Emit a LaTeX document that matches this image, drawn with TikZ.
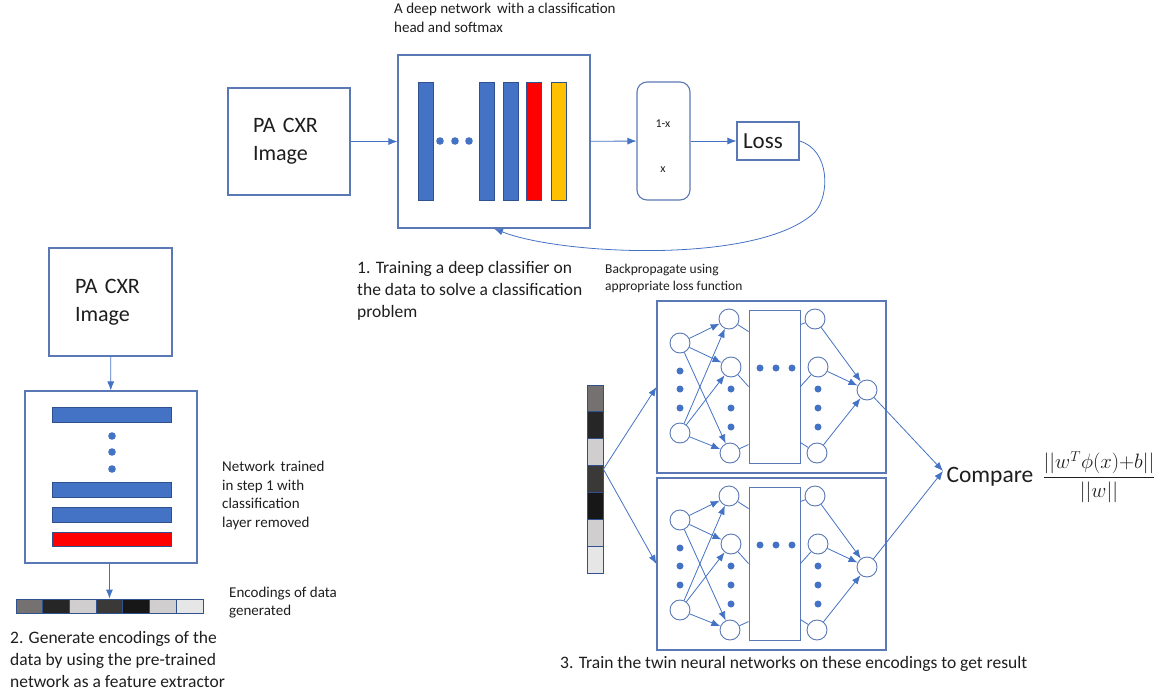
\documentclass[tikz,border=0pt]{standalone}
\usepackage{amsmath}
\usepackage{fontspec}
\setmainfont{Carlito}
\usetikzlibrary{arrows.meta, positioning}

\definecolor{barblue}{HTML}{4472C4}
\definecolor{barline}{HTML}{2F528F}
\definecolor{boxblue}{HTML}{5A78B5}
\definecolor{lineblue}{HTML}{4472C4}
\definecolor{txt}{HTML}{1E1E1E}
\definecolor{redbar}{HTML}{FF0000}
\definecolor{goldbar}{HTML}{FFC000}
\definecolor{enc1}{HTML}{767171}
\definecolor{enc2}{HTML}{262626}
\definecolor{enc3}{HTML}{D0CECE}
\definecolor{enc4}{HTML}{3B3838}
\definecolor{enc5}{HTML}{171717}
\definecolor{enc6}{HTML}{D0CECE}
\definecolor{enc7}{HTML}{E7E6E6}

\tikzset{
	box/.style={draw=boxblue,line width=1.1pt,fill=white,inner sep=0pt},
	bar/.style={draw=barline,line width=0.7pt},
	neuron/.style={circle,draw=boxblue,line width=0.9pt,fill=white,minimum size=20pt,inner sep=0pt},
	conn/.style={draw=lineblue,line width=0.8pt,-{Latex[length=9pt,width=7pt]}},
	link/.style={draw=lineblue,line width=0.8pt},
	cell/.style={draw=barline,line width=0.8pt,inner sep=0pt},
	caption/.style={anchor=north west,inner sep=0pt,align=left,text=txt,font=\fontsize{17.5}{22}\selectfont},
	smallnote/.style={anchor=north west,inner sep=0pt,align=left,text=txt,font=\fontsize{15}{18.5}\selectfont},
	big/.style={text=txt,font=\fontsize{22}{28}\selectfont,align=left}
}

\begin{document}
\begin{tikzpicture}[x=1pt,y=-1pt]
	\useasboundingbox (0,0) rectangle (1160,691);

	% step 1: classifier
	\node[box,big,minimum height=107,inner xsep=25pt,text width=72pt] (img1) at (289,141.5) {PA CXR\\Image};
	\node[box,minimum width=192,minimum height=173] (cnn) at (494,141.5) {};
	\foreach \x in {418,479,503}
		\draw[bar,fill=barblue] (\x,82) rectangle ++(15,118);
	\draw[bar,fill=redbar] (526,82) rectangle ++(15,118);
	\draw[bar,fill=goldbar] (551,82) rectangle ++(15,118);
	\foreach \x in {440,455,469}
		\fill[barblue] (\x,141) circle (3.8pt);
	\node[draw=boxblue,line width=1.1pt,rounded corners=10pt,minimum width=53,minimum height=118] (soft) at (663.5,141) {};
	\node[text=txt,font=\fontsize{12}{14}\selectfont] (p1) at (663,124) {1-x};
	\node[text=txt,font=\fontsize{12}{14}\selectfont] (p0) at (663,170) {x};
	\node[box,text=txt,font=\fontsize{23}{26}\selectfont,minimum height=38,inner xsep=6pt,text width=50pt,align=left] (loss) at (768,141) {Loss};

	\draw[conn] (img1) -- (cnn);
	\draw[conn] (cnn) -- (soft);
	\draw[conn] (soft) -- (loss);
	\draw[conn] (loss.east) .. controls (830,150) and (830,195) .. (815,212)
		.. controls (760,265) and (560,255) .. (cnn.south);

	\node[smallnote] (title) at (394,3) {A deep network\, with a classification\\head and softmax};
	\node[caption] (step1) at (357,261) {1. Training a deep classifier on\\the data to solve a classification\\problem};
	\node[smallnote,font=\fontsize{13.5}{16.5}\selectfont] (backprop) at (605,264) {Backpropagate using\\appropriate loss function};

	% step 2: encodings
	\node[box,big,minimum height=108,inner xsep=26pt,text width=71pt] (img2) at (110.5,302) {PA CXR\\Image};
	\node[box,minimum width=172,minimum height=172] (net2) at (111,477) {};
	\foreach \y in {407,482,507}
		\draw[bar,fill=barblue] (52,\y) rectangle ++(119,15);
	\draw[bar,fill=redbar] (52,532) rectangle ++(119,14);
	\foreach \y in {436,452,469}
		\fill[barblue] (112,\y) circle (3.8pt);
	\foreach \i in {1,...,7}
		\node[cell,fill=enc\i,minimum width=26.7,minimum height=14] (ench\i) at ({16+26.7*(\i-0.5)},606) {};

	\draw[conn] (img2) -- (net2);
	\draw[conn] (ench4.north |- net2.south) -- (ench4.north);

	\node[smallnote] (trained) at (222,461) {Network\, trained\\in step 1 with\\classification\\layer removed};
	\node[smallnote,font=\fontsize{15}{18}\selectfont] (encnote) at (229,587) {Encodings of data\\generated};
	\node[caption] (step2) at (10,631) {2. Generate encodings of the\\data by using the pre-trained\\network as a feature extractor};

	% step 3: twin networks
	\foreach \i in {1,...,7}
		\node[cell,fill=enc\i,minimum width=16,minimum height=26.86] (encv\i) at (595,{385+26.86*(\i-0.5)}) {};
	\node[text=txt,font=\fontsize{23.5}{26}\selectfont,anchor=west] (cmp) at (943,477) {Compare};
	\node[text=txt,font=\fontsize{21}{25}\selectfont,right=2pt of cmp] (score) {$\dfrac{||w^T\phi(x){+}b||}{||w||}$};

	\foreach \n/\dy in {u/0,l/177}{
		\begin{scope}[shift={(0,\dy)}]
			\node[box,minimum width=229,minimum height=172] (\n-net) at (771.5,387) {};
			\node[neuron] (\n-i1) at (680,343) {};
			\node[neuron] (\n-i2) at (680,433) {};
			\node[neuron] (\n-a1) at (729,319) {};
			\node[neuron] (\n-a2) at (731,367) {};
			\node[neuron] (\n-a3) at (730,453) {};
			\node[box,line width=0.9pt,minimum width=51,minimum height=153] (\n-mid) at (774.5,386.5) {};
			\node[neuron] (\n-b1) at (815,319) {};
			\node[neuron] (\n-b2) at (818,367) {};
			\node[neuron] (\n-b3) at (817,453) {};
			\node[neuron] (\n-o) at (867,390) {};
			\foreach \y in {371,389,408}
				\fill[barblue] (680,\y) circle (3.5pt);
			\foreach \y in {389,408,427}{
				\fill[barblue] (731,\y) circle (3.5pt);
				\fill[barblue] (818,\y) circle (3.5pt);
			}
			\foreach \x in {760,776,792}
				\fill[barblue] (\x,368) circle (3.5pt);
			\foreach \s in {1,2}
				\foreach \t in {1,2,3}
					\draw[conn] (\n-i\s) -- (\n-a\t);
			\draw[link] (\n-a1) -- ([yshift=-22pt]\n-mid.north west);
			\draw[link] (\n-a2) -- ([yshift=-77pt]\n-mid.north west);
			\draw[link] (\n-a3) -- ([yshift=-135pt]\n-mid.north west);
			\draw[link] ([yshift=-15pt]\n-mid.north east) -- (\n-b1);
			\draw[link] ([yshift=-77pt]\n-mid.north east) -- (\n-b2);
			\draw[link] ([yshift=-133pt]\n-mid.north east) -- (\n-b3);
			\foreach \t in {1,2,3}
				\draw[conn] (\n-b\t) -- (\n-o);
			\draw[conn] (\n-o) -- ([yshift=6pt]cmp.west);
		\end{scope}
	}
	\draw[conn] ([yshift=-4pt]encv4.north east) -- (u-net.west);
	\draw[conn] ([yshift=-4pt]encv4.north east) -- (l-net.west);

	\node[caption] (step3) at (560,656) {3. Train the twin neural networks on these encodings to get result};
\end{tikzpicture}
\end{document}
